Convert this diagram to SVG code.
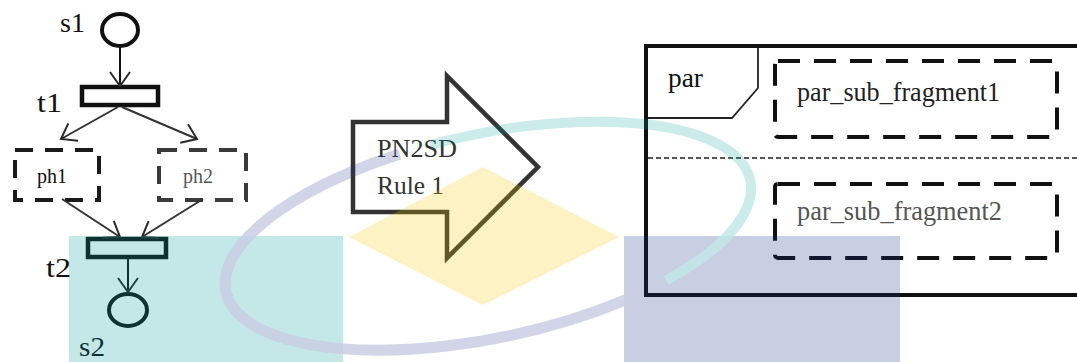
<svg xmlns="http://www.w3.org/2000/svg" width="1077" height="362" viewBox="0 0 1077 362">
  <style>
    .lbl { font-family: "Liberation Serif", "Times New Roman", serif; fill: #111; }
    .place { fill: none; stroke: #111; stroke-width: 4; }
    .trans { fill: #fff; stroke: #111; stroke-width: 4.5; }
    .phase { fill: none; stroke-width: 4; stroke-dasharray: 18 12; }
    .arc { fill: none; stroke: #333; stroke-width: 2; marker-end: url(#open); }
    .frag { fill: none; stroke: #111; stroke-width: 4; stroke-dasharray: 22 14; }
  </style>
  <defs>
    <marker id="open" markerUnits="userSpaceOnUse" markerWidth="18" markerHeight="24" refX="15" refY="11" orient="auto">
      <path d="M1,1 L15,11 L1,21" fill="none" stroke="#2a2a2a" stroke-width="2"/>
    </marker>
  </defs>

  <rect width="1077" height="362" fill="#fff"/>

  <!-- Petri net places and transitions -->
  <g id="s1">
    <ellipse class="place" cx="120" cy="30" rx="18" ry="16"/>
    <text class="lbl" x="60" y="32" font-size="27" textLength="25" lengthAdjust="spacingAndGlyphs">s1</text>
  </g>
  <g id="t1">
    <rect class="trans" x="82" y="87" width="76" height="18"/>
    <text class="lbl" x="37" y="112" font-size="27" textLength="25" lengthAdjust="spacingAndGlyphs">t1</text>
  </g>
  <g id="ph1">
    <rect class="phase" x="15" y="150" width="84" height="50" stroke="#1a1a1a"/>
    <text class="lbl" x="37" y="183" font-size="20" fill="#222">ph1</text>
  </g>
  <g id="ph2">
    <rect class="phase" x="159" y="150" width="87" height="50" stroke="#3a3a3a"/>
    <text class="lbl" x="183" y="183" font-size="20" style="fill:#555">ph2</text>
  </g>
  <g id="t2">
    <rect class="trans" x="88" y="239" width="78" height="18"/>
    <text class="lbl" x="46" y="277" font-size="27" textLength="25" lengthAdjust="spacingAndGlyphs">t2</text>
  </g>
  <g id="s2">
    <ellipse class="place" cx="128" cy="310" rx="19" ry="16" stroke-width="4.5"/>
    <text class="lbl" x="79" y="356" font-size="27" textLength="26" lengthAdjust="spacingAndGlyphs">s2</text>
  </g>

  <!-- transformation rule arrow -->
  <g id="rule">
    <polygon points="353,122 447,122 447,76 538,167 447,258 447,212 353,212" fill="#fff" stroke="#333" stroke-width="4.5" stroke-linejoin="miter"/>
    <text class="lbl" x="377" y="157" font-size="26" textLength="80" lengthAdjust="spacingAndGlyphs" style="fill:#333">PN2SD</text>
    <text class="lbl" x="377" y="194" font-size="26" textLength="67" lengthAdjust="spacingAndGlyphs" style="fill:#333">Rule 1</text>
  </g>

  <!-- combined fragment -->
  <g id="par">
    <path d="M1081,46 H646 V295 H1081" fill="none" stroke="#111" stroke-width="4"/>
    <polyline points="648,118 732,118 758,88 758,48" fill="none" stroke="#222" stroke-width="1.8"/>
    <line x1="648" y1="158" x2="1077" y2="158" stroke="#222" stroke-width="1.6" stroke-dasharray="5 3"/>
    <text class="lbl" x="668" y="87" font-size="28" textLength="35" lengthAdjust="spacingAndGlyphs">par</text>
  </g>
  <g id="par_sub_fragment1">
    <rect class="frag" x="775" y="61" width="282" height="76" rx="3"/>
    <text class="lbl" x="797" y="101" font-size="28" textLength="203" lengthAdjust="spacingAndGlyphs" style="fill:#222">par_sub_fragment1</text>
  </g>
  <g id="par_sub_fragment2">
    <rect class="frag" x="775" y="184" width="282" height="74" rx="3"/>
    <text class="lbl" x="797" y="220" font-size="28" textLength="205" lengthAdjust="spacingAndGlyphs" style="fill:#555">par_sub_fragment2</text>
  </g>

  <!-- arcs of the net -->
  <g id="connectors">
    <line class="arc" x1="120" y1="47" x2="120" y2="86" style="stroke:#111"/>
    <line class="arc" x1="118" y1="107" x2="61" y2="139"/>
    <line class="arc" x1="122" y1="107" x2="197" y2="139"/>
    <line class="arc" x1="62" y1="199" x2="120" y2="237"/>
    <line class="arc" x1="203" y1="199" x2="142" y2="237"/>
    <line class="arc" x1="128" y1="257" x2="128" y2="292" style="stroke:#111"/>
  </g>

  <!-- translucent emblem laid over the page -->
  <g id="emblem" opacity="0.23">
    <rect x="69" y="236" width="274" height="126" fill="#009f9b"/>
    <rect x="624" y="236" width="276" height="126" fill="#153389"/>
    <polygon points="483,167 619,237 483,305 349,237" fill="#f6cb00"/>
    <path d="M430.6,144.9 A268,102 -12 0 1 666.1,280.3" fill="none" stroke="#00a09c" stroke-width="10" stroke-opacity="0.85"/>
    <path d="M666.1,280.3 A268,102 -12 1 1 399.7,154" fill="none" stroke="#1a2f8a" stroke-width="11" stroke-opacity="0.85"/>
  </g>
</svg>
